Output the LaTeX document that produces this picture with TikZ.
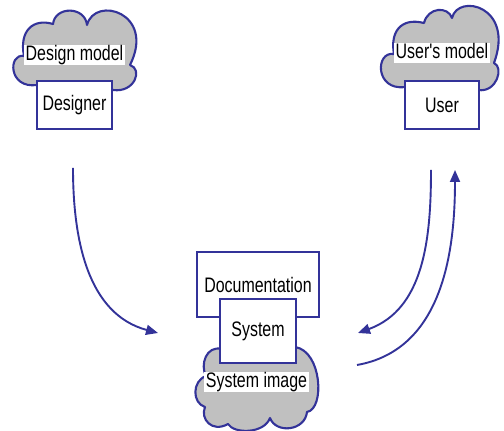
\documentclass[tikz,border=0pt]{standalone}
\usepackage{fontspec}
\newfontfamily\labelfont[FakeStretch=0.76]{Liberation Sans}
\usetikzlibrary{arrows.meta}
\definecolor{ink}{HTML}{333399}
\definecolor{puff}{HTML}{C0C0C0}

\begin{document}
\begin{tikzpicture}[x=1pt,y=1pt,
  cloudline/.style={draw=ink, line width=2.1pt, fill=puff, line join=round},
  boxnode/.style={draw=ink, line width=1.8pt, fill=white, inner sep=0pt,
    font=\labelfont\fontsize{21}{21}\selectfont},
  tag/.style={fill=white, inner sep=1.5pt, text height=14pt, text depth=3.5pt,
    font=\labelfont\fontsize{21}{21}\selectfont},
  flow/.style={draw=ink, line width=1.9pt, -{Triangle[length=12pt,width=10pt]}}
]
\useasboundingbox (0,0) rectangle (504,431);

% designer's mental model
\draw[cloudline] (37,346)
  .. controls (8,342) and (8,378) .. (24,375)
  .. controls (19,400) and (33,413) .. (53,407)
  .. controls (55,425) and (85,425) .. (87,406)
  .. controls (95,436) and (156,418) .. (130,366)
  .. controls (143,362) and (135,338) .. (113,341)
  -- cycle;
\node[tag] (dmodel) at (74.5,376) {Design model};
\node[boxnode, minimum width=75pt, minimum height=48pt] (designer) at (74.5,326) {Designer};

% user's mental model
\draw[cloudline] (405,344)
  .. controls (375,340) and (375,380) .. (394,377)
  .. controls (390,398) and (400,414) .. (424,408)
  .. controls (428,424) and (448,425) .. (452,413)
  .. controls (458,438) and (515,425) .. (494,368)
  .. controls (504,364) and (497,338) .. (478,341)
  -- cycle;
\node[tag] (umodel) at (442,378) {User's model};
\node[boxnode, minimum width=74pt, minimum height=48pt] (user) at (442,326) {User};

% system and its image
\node[boxnode, minimum width=122pt, minimum height=65pt] (doc) at (258,146.5) {Documentation};
\draw[cloudline] (222,82)
  .. controls (206,86) and (200,66) .. (206,55)
  .. controls (192,50) and (192,28) .. (205,24)
  .. controls (200,12) and (212,-2) .. (228,7)
  .. controls (234,-3) and (264,-3) .. (270,13)
  .. controls (276,-3) and (305,0) .. (307,19)
  .. controls (325,22) and (322,80) .. (295,84)
  -- (222,84) -- cycle;
\node[boxnode, minimum width=76pt, minimum height=64pt] (system) at (258,100) {System};
\node[tag] (simage) at (256.5,49) {System image};

% connectors
\coordinate (dstart) at (73,263);
\coordinate (dend) at (158,98);
\coordinate (ustart) at (431,261);
\coordinate (uend) at (358,98);
\coordinate (sstart) at (357,66);
\coordinate (send) at (455,261);
\draw[flow] (dstart) to[out=-90, in=165] (dend);
\draw[flow] (ustart) to[out=-90, in=20] (uend);
\draw[flow] (sstart) to[out=10, in=-90] (send);
\end{tikzpicture}
\end{document}
